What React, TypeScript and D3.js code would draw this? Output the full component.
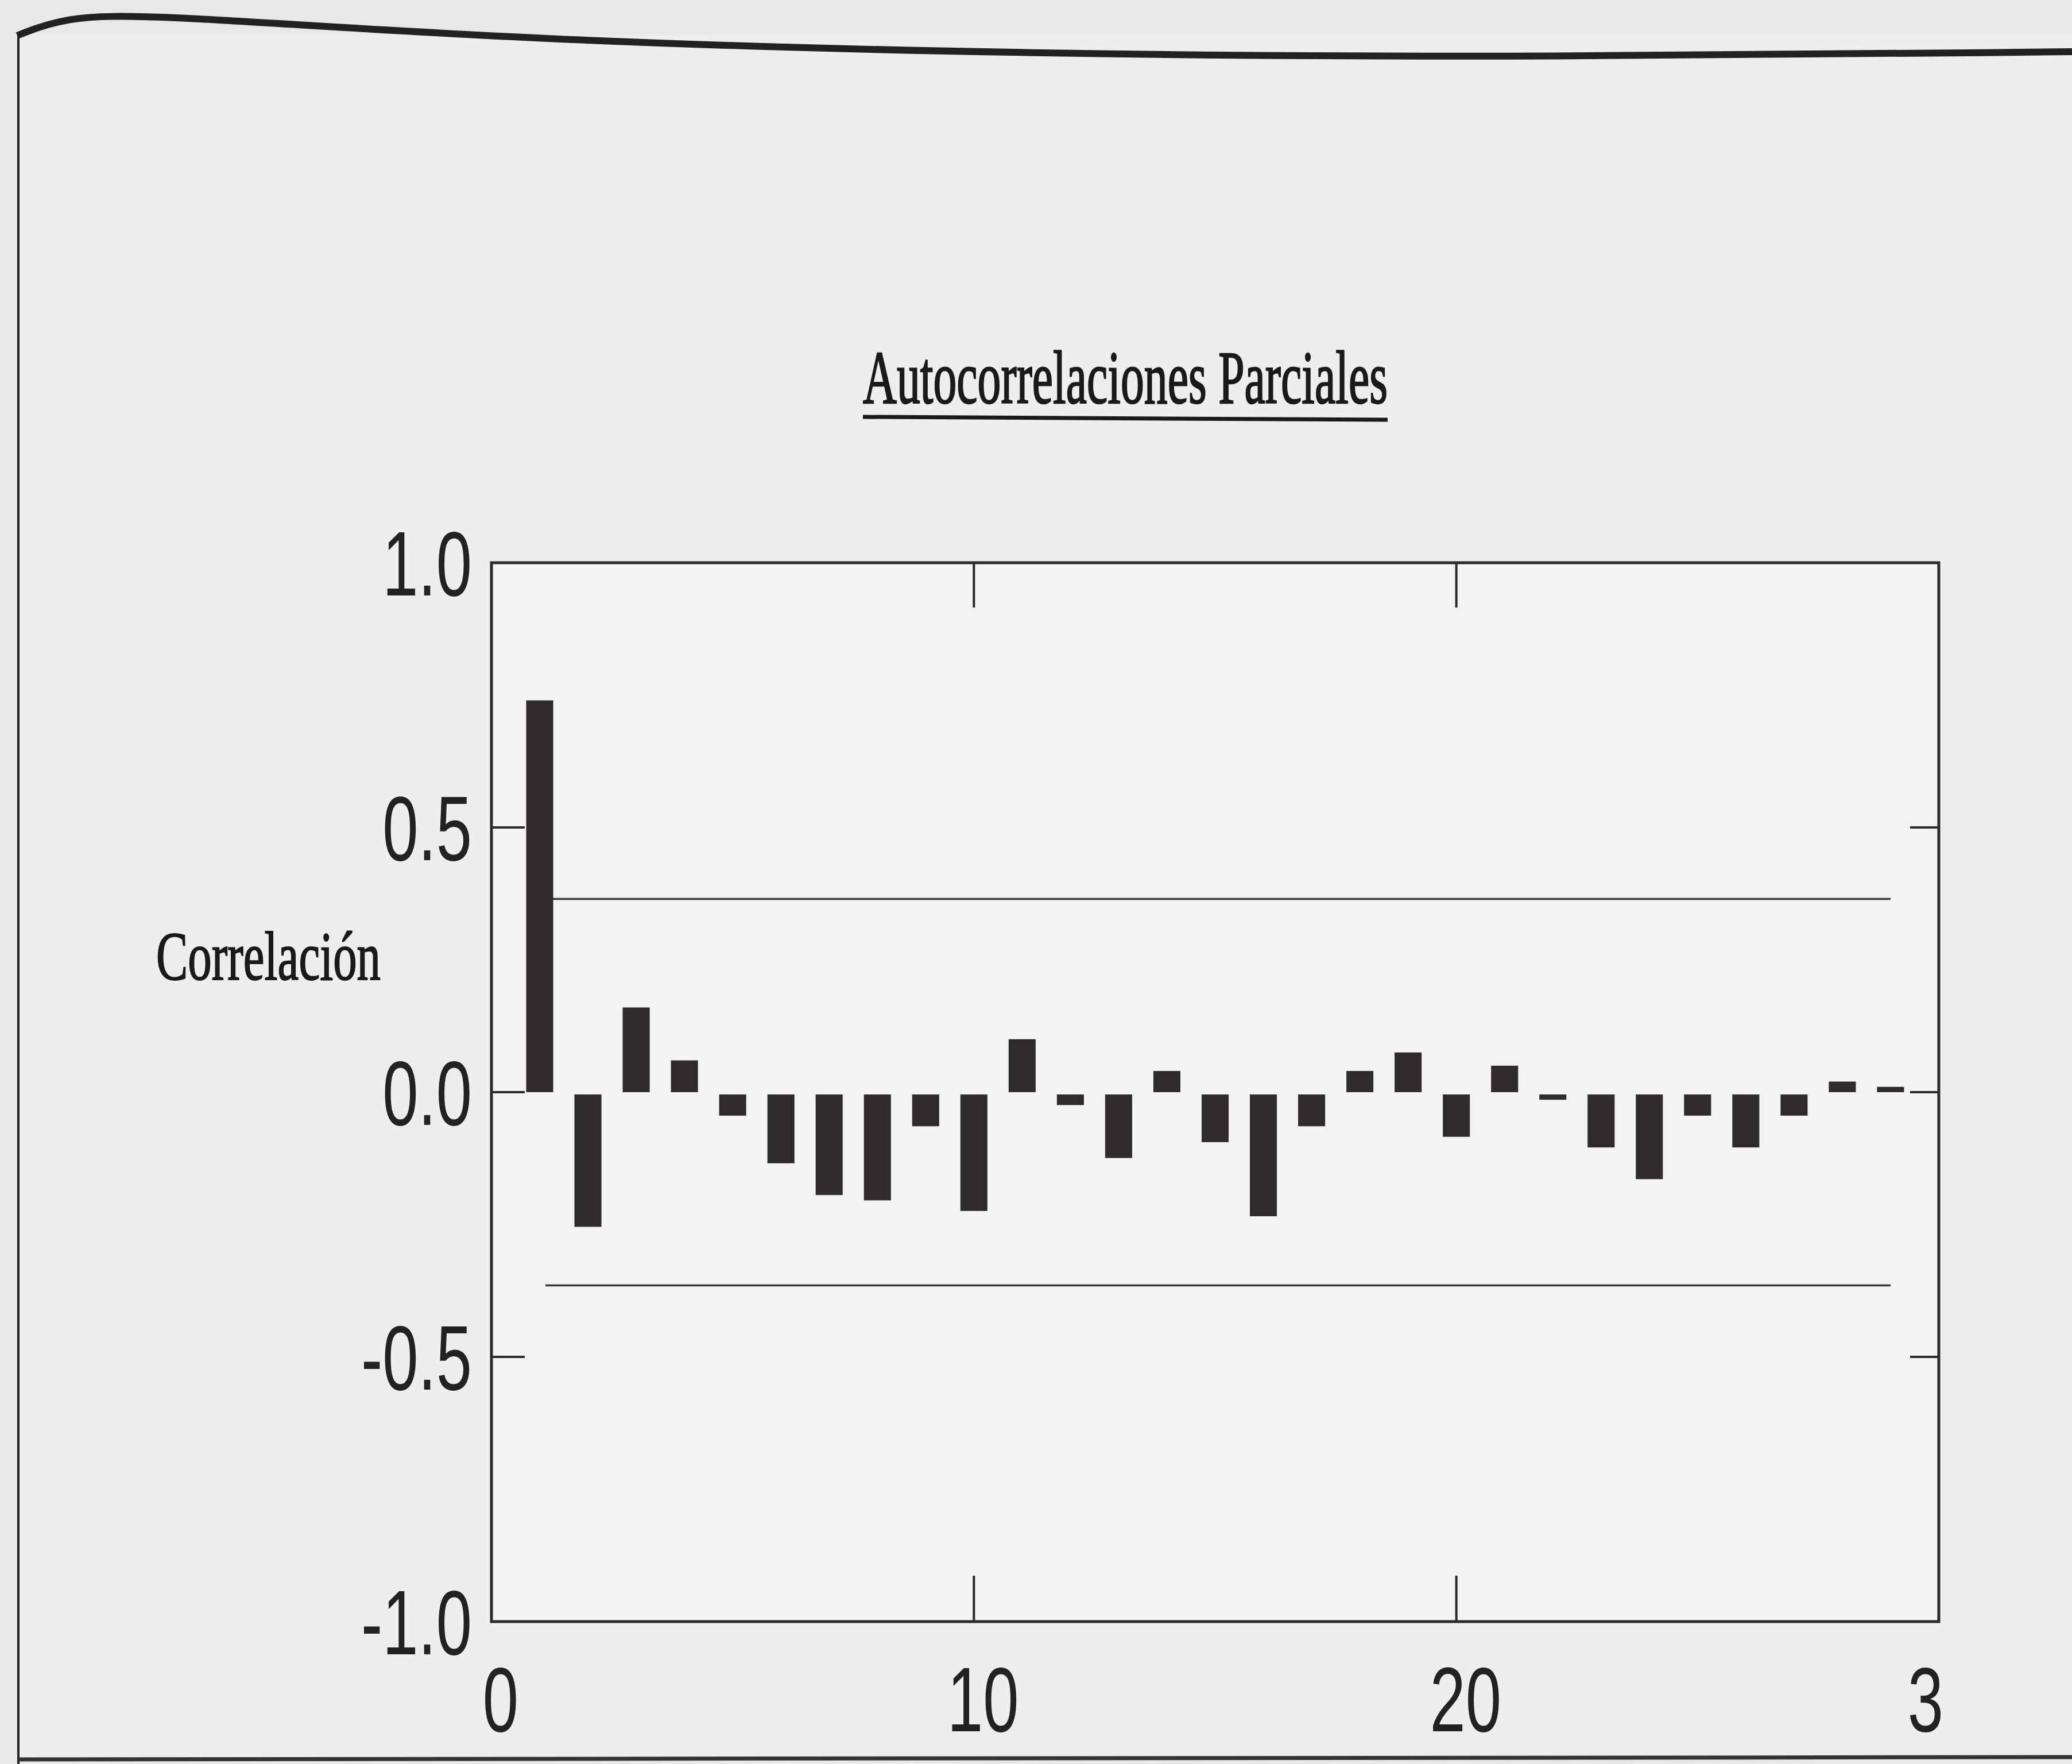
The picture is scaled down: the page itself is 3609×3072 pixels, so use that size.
import React from 'react';
import * as d3 from 'd3';

// partial autocorrelation by lag
const lags = [1, 2, 3, 4, 5, 6, 7, 8, 9, 10, 11, 12, 13, 14, 15, 16, 17, 18, 19, 20, 21, 22, 23, 24, 25, 26, 27, 28, 29];
const pacf = [0.74, -0.25, 0.16, 0.06, -0.04, -0.13, -0.19, -0.2, -0.06, -0.22, 0.1, -0.02, -0.12, 0.04, -0.09, -0.23, -0.06, 0.04, 0.075, -0.08, 0.05, -0.01, -0.1, -0.16, -0.04, -0.1, -0.04, 0.02, 0.01];
const confLimit = [0.365, -0.365];
const yTicks = [1.0, 0.5, 0.0, -0.5, -1.0];
const yTickLabels = ['1.0', '0.5', '0.0', '-0.5', '-1.0'];
const xTicks = [0, 10, 20, 30];
const xTickLabels = ['0', '10', '20', '3'];

const W = 3609;
const H = 3072;
const left = 856;
const right = 3377;
const top = 980;
const bottom = 2824;

const App = () => {
  const x = d3.scaleLinear().domain([0, 30]).range([left, right]);
  const y = d3.scaleLinear().domain([-1, 1]).range([bottom, top]);
  const barW = (x(1) - x(0)) * 0.56;
  const ink = '#2e2a2e';
  const sx = 0.7; // printout font is squeezed horizontally

  const border = d3.line().curve(d3.curveBasis)([
    [30, 62], [110, 30], [260, 24], [900, 70], [1800, 95], [2700, 100], [3609, 90],
  ]);

  return (
    <svg width={W} height={H} style={{ position: 'absolute', left: 0, top: 0 }}>
      <rect width={W} height={H} fill="#e8e8e8" />
      <rect x={34} y={60} width={W - 34} height={H - 70} fill="#eeeeee" />
      <path d={border || ''} fill="none" stroke="#222" strokeWidth={12} />
      <line x1={32} x2={32} y1={58} y2={H} stroke="#222" strokeWidth={4} />
      <line x1={32} x2={W} y1={3064} y2={3060} stroke="#333" strokeWidth={7} />

      {/* title */}
      <text x={1960} y={702} textAnchor="middle" fontFamily="'Liberation Serif', serif" fontSize={132}
        fill="#1a1a1a" stroke="#1a1a1a" strokeWidth={2.5} textLength={914} lengthAdjust="spacingAndGlyphs">
        Autocorrelaciones Parciales
      </text>
      <line x1={1503} x2={2417} y1={726} y2={731} stroke="#1a1a1a" strokeWidth={7} />

      {/* y axis title */}
      <text x={272} y={1706} fontFamily="'Liberation Serif', serif" fontSize={120} fill="#1a1a1a"
        stroke="#1a1a1a" strokeWidth={2} textLength={391} lengthAdjust="spacingAndGlyphs">
        Correlación
      </text>

      {/* plot frame */}
      <rect x={left} y={top} width={right - left} height={bottom - top} fill="#f3f3f3" stroke="#2a2a2a" strokeWidth={5} />

      {/* confidence limits */}
      {confLimit.map((c, i) => (
        <line key={i} x1={x(1) + 10} x2={x(29)} y1={y(c)} y2={y(c)} stroke="#3a3a3a" strokeWidth={3.5} />
      ))}

      {/* y ticks: inward on both sides */}
      {yTicks.filter(t => t > -1 && t < 1).map(t => (
        <g key={t}>
          <line x1={left} x2={left + 58} y1={y(t)} y2={y(t)} stroke="#2a2a2a" strokeWidth={4} />
          <line x1={right} x2={right - 50} y1={y(t)} y2={y(t)} stroke="#2a2a2a" strokeWidth={4} />
        </g>
      ))}
      {yTicks.map((t, i) => (
        <text key={t} transform={`translate(${left - 34},${y(t) + 57}) scale(${sx},1)`} textAnchor="end"
          fontFamily="'Liberation Sans', Arial, sans-serif" fontSize={160} fill="#222">
          {yTickLabels[i]}
        </text>
      ))}

      {/* x ticks */}
      {xTicks.filter(t => t > 0 && t < 30).map(t => (
        <g key={t}>
          <line x1={x(t)} x2={x(t)} y1={top} y2={top + 78} stroke="#2a2a2a" strokeWidth={4} />
          <line x1={x(t)} x2={x(t)} y1={bottom} y2={bottom - 80} stroke="#2a2a2a" strokeWidth={4} />
        </g>
      ))}
      {xTicks.map((t, i) => (
        <text key={t} transform={`translate(${i === xTicks.length - 1 ? x(t) + 8 : x(t) + 16},3015) scale(${sx},1)`}
          textAnchor={i === xTicks.length - 1 ? 'end' : 'middle'}
          fontFamily="'Liberation Sans', Arial, sans-serif" fontSize={160} fill="#222">
          {xTickLabels[i]}
        </text>
      ))}

      {/* bars */}
      {lags.map((l, i) => {
        const v = pacf[i];
        const y0 = y(Math.max(0, v));
        const h = Math.max(Math.abs(y(v) - y(0)), 8);
        return <rect key={l} x={x(l) - barW / 2} y={v >= 0 ? y0 : y(0) + 4} width={barW} height={h} fill={ink} />;
      })}
    </svg>
  );
};

export default App;
